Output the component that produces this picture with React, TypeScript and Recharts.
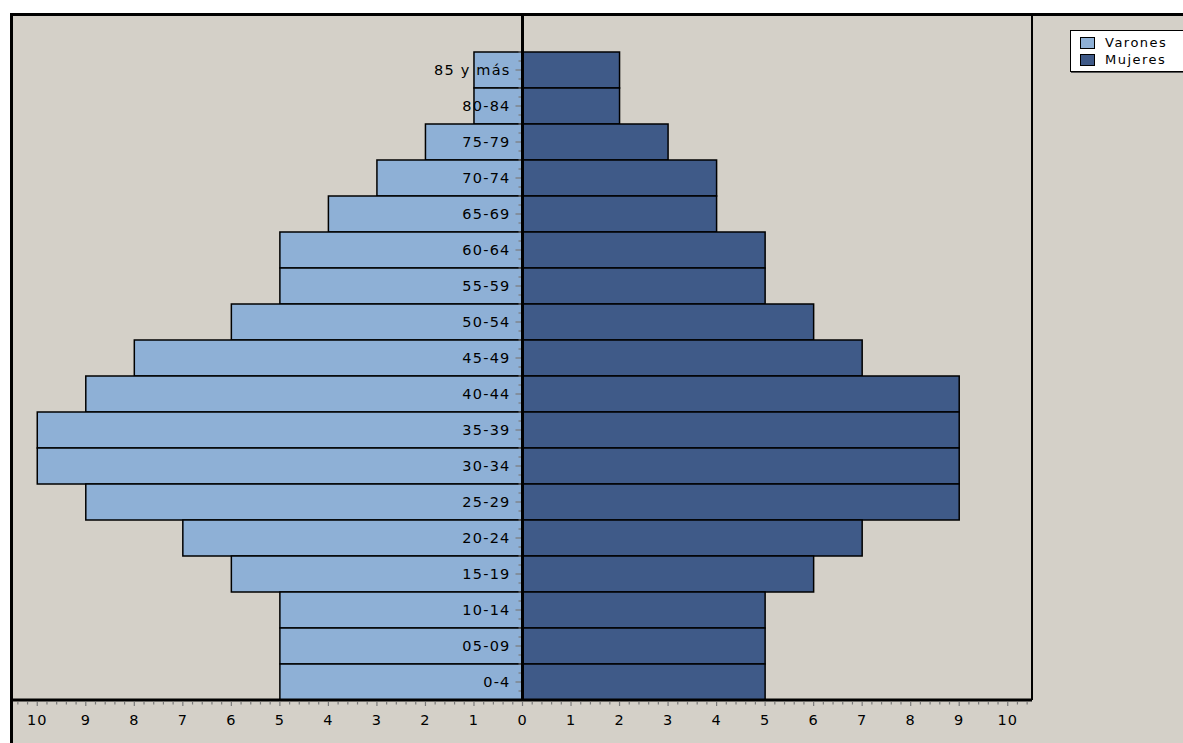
import React from 'react';
import { BarChart, Bar, XAxis, YAxis, ReferenceLine, LabelList, Legend } from 'recharts';

// grupos de edad, de arriba hacia abajo
const ageGroups = [
  '85 y más', '80-84', '75-79', '70-74', '65-69', '60-64', '55-59', '50-54', '45-49',
  '40-44', '35-39', '30-34', '25-29', '20-24', '15-19', '10-14', '05-09', '0-4',
];
const varones = [1, 1, 2, 3, 4, 5, 5, 6, 8, 9, 10, 10, 9, 7, 6, 5, 5, 5];
const mujeres = [2, 2, 3, 4, 4, 5, 5, 6, 7, 9, 9, 9, 9, 7, 6, 5, 5, 5];
const majorTicks = [-10, -9, -8, -7, -6, -5, -4, -3, -2, -1, 0, 1, 2, 3, 4, 5, 6, 7, 8, 9, 10];
const seriesOrder = ['Varones', 'Mujeres'];

const BG = '#D4D0C8';
const FONT = '"DejaVu Sans", Verdana, sans-serif';

// varones van a la izquierda (negativos)
const data = ageGroups.map((age, i) => ({ age, varones: -varones[i], mujeres: mujeres[i] }));

// marcas menores cada 0.2 entre las mayores
const axisTicks: number[] = [];
majorTicks.forEach((t, i) => {
  axisTicks.push(t);
  if (i < majorTicks.length - 1) {
    for (let k = 1; k < 5; k++) axisTicks.push(+(t + k * 0.2).toFixed(2));
  }
});
axisTicks.push(10.2, 10.4);
axisTicks.unshift(-10.4, -10.2);

const XTick = ({ x, y, payload }: any) => {
  const v = payload.value;
  const major = Math.abs(v - Math.round(v)) < 1e-6;
  return (
    <g>
      <line x1={x} x2={x} y1={y + 2} y2={y + (major ? 6 : 4.5)} stroke="#7a7a7a" strokeWidth={1.2} />
      {major && (
        <text x={x} y={y + 25} textAnchor="middle" fontSize={14.5} letterSpacing={1} fontFamily={FONT} fill="#000">
          {Math.abs(v)}
        </text>
      )}
    </g>
  );
};

// etiqueta de edad a la izquierda del eje central + marcas del eje
const AgeLabel = (p: any) => {
  const vb = p.viewBox || p;
  const x = vb.x ?? p.x;
  const y = vb.y ?? p.y;
  const h = vb.height ?? p.height;
  const cy = y + h / 2;
  return (
    <g>
      {[0, 0.25, 0.75].map((f) => (
        <line key={f} x1={x - 4} x2={x - 1.5} y1={y + h * f} y2={y + h * f} stroke="#7a7a7a" strokeWidth={1.2} />
      ))}
      <line x1={x - 7} x2={x - 1.5} y1={cy} y2={cy} stroke="#7a7a7a" strokeWidth={1.2} />
      <text x={x - 12} y={cy + 5} textAnchor="end" fontSize={14.5} letterSpacing={1.2} fontFamily={FONT} fill="#000">
        {p.value}
      </text>
    </g>
  );
};

const LegendBox = ({ payload }: any) => {
  const items = [...(payload || [])].sort((a: any, b: any) => seriesOrder.indexOf(a.value) - seriesOrder.indexOf(b.value));
  return (
    <div style={{ background: '#fff', border: '1px solid #000', boxShadow: '1px 1px 0 #555', padding: '3px 0 3px 9px', width: 120 }}>
      {items.map((e: any) => (
        <div key={e.value} style={{ display: 'flex', alignItems: 'center', height: 17 }}>
          <span style={{ display: 'inline-block', width: 15, height: 12, background: e.color, border: '1px solid #000', boxSizing: 'border-box', marginRight: 10 }} />
          <span style={{ fontFamily: FONT, fontSize: 13, letterSpacing: 1.5, color: '#000' }}>{e.value}</span>
        </div>
      ))}
    </div>
  );
};

export default function App() {
  return (
    <div style={{ position: 'fixed', inset: 0, background: '#fff', overflow: 'hidden' }}>
      <div style={{ position: 'absolute', left: 10, top: 13, width: 1200, height: 760, background: BG, borderTop: '3px solid #000', borderLeft: '3px solid #000', boxSizing: 'border-box' }}>
        <BarChart
          width={1180}
          height={740}
          data={data}
          layout="vertical"
          stackOffset="sign"
          barCategoryGap={0}
          margin={{ top: 0, right: 161, bottom: 16, left: 0 }}
        >
          <XAxis
            type="number"
            domain={[-10.5, 10.5]}
            ticks={axisTicks}
            interval={0}
            allowDataOverflow
            height={40}
            tickSize={0}
            tickMargin={0}
            tickLine={false}
            axisLine={{ stroke: '#000', strokeWidth: 3 }}
            tick={<XTick />}
          />
          <YAxis yAxisId="main" type="category" dataKey="age" width={0} tick={false} tickLine={false} padding={{ top: 36, bottom: 0 }} axisLine={{ stroke: '#111', strokeWidth: 1.5 }} />
          <Legend
            layout="vertical"
            align="center"
            verticalAlign="middle"
            content={<LegendBox />}
            wrapperStyle={{ left: 1057, top: 14, width: 130 }}
          />
          <Bar yAxisId="main" dataKey="varones" name="Varones" stackId="p" fill="#8EB0D6" stroke="#000" strokeWidth={1.5} isAnimationActive={false} />
          <Bar yAxisId="main" dataKey="mujeres" name="Mujeres" stackId="p" fill="#3F5A88" stroke="#000" strokeWidth={1.5} isAnimationActive={false}>
            <LabelList dataKey="age" content={<AgeLabel />} />
          </Bar>
          <ReferenceLine yAxisId="main" x={0} stroke="#000" strokeWidth={3} />
          <ReferenceLine yAxisId="main" x={10.5} stroke="#000" strokeWidth={2} ifOverflow="visible" />
        </BarChart>
      </div>
    </div>
  );
}
